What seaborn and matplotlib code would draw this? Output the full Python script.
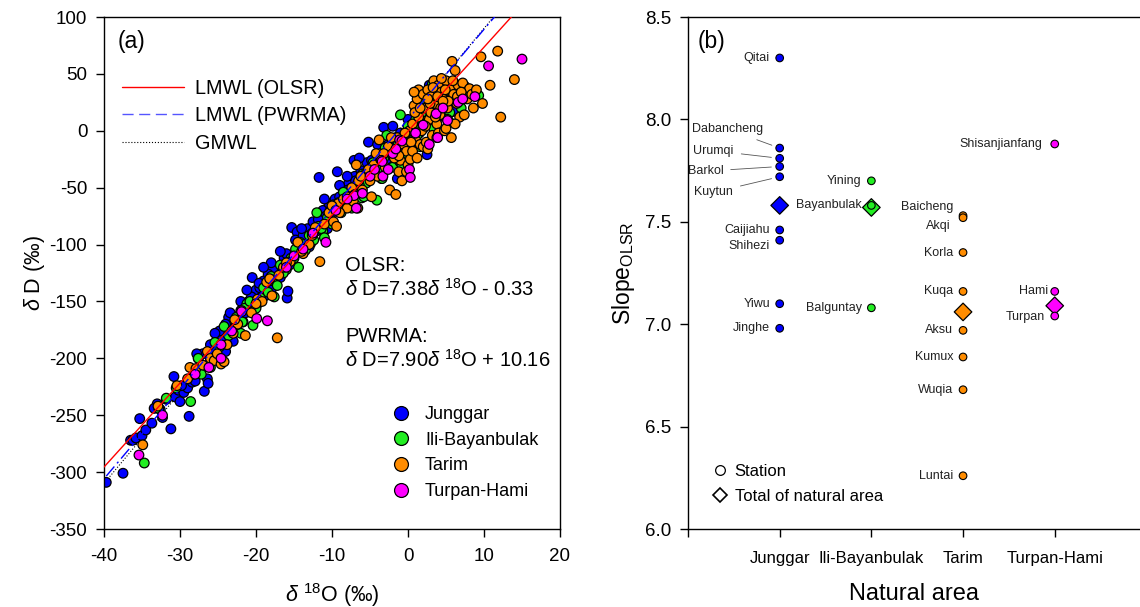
import numpy as np
import pandas as pd
import matplotlib
matplotlib.use("Agg")
import matplotlib.pyplot as plt
from matplotlib.lines import Line2D
import seaborn as sns

# ---- panel (a): d18O / dD of precipitation samples ----
junggar_o = [-39.7, -37.5, -36.5, -36.2, -35.8, -35.3, -35.0, -34.5, -33.7, -33.0, -32.6, -32.3,
             -31.2, -30.6, -30.2, -30.0, -29.5, -29.0, -28.8, -28.4, -28.0, -27.6, -27.2, -26.8,
             -26.4, -26.3, -26.0, -25.6, -25.2, -25.0, -24.6, -24.4, -24.0, -23.8, -23.5, -23.2,
             -23.0, -22.8, -22.5, -22.2, -22.0, -21.7, -21.4, -21.0, -20.8, -20.5, -20.3, -20.0,
             -19.8, -19.5, -19.2, -19.0, -18.6, -18.2, -18.0, -17.7, -17.4, -17.0, -16.6, -16.3,
             -15.9, -15.8, -15.6, -15.3, -15.0, -14.6, -14.3, -14.0, -13.6, -13.2, -12.8, -12.5,
             -12.0, -11.7, -11.5, -11.2, -10.8, -10.4, -10.0, -9.6, -9.3, -9.0, -8.6, -8.2,
             -7.8, -7.5, -7.1, -7.0, -6.6, -6.2, -5.8, -5.2, -5.0, -4.5, -4.2, -3.8,
             -3.2, -2.8, -2.2, -1.8, -1.4, -1.0, -0.5, 0.2, 0.8, 1.5, 2.5, 2.8,
             3.5, 3.7, 4.2, 6.0,
             -33.4, -31.8, -29.8, -28.2, -27.0, -25.8, -24.8, -23.6, -22.6, -21.6, -20.6, -19.6,
             -18.8, -17.8, -16.8, -16.0, -14.8, -13.8, -12.8, -11.8, -10.6, -9.8, -8.8, -7.9,
             -6.9, -6.0, -5.4, -4.8, -3.6, -2.6, -1.6, -0.8, 0.5, 1.2, 2.0, -26.0,
             -22.0, -18.4, -13.0, -9.0,
             -30.8, -27.8, -25.4, -23.4, -21.2, -18.0, -16.8, -14.0, -11.0, -8.0, -6.4, -4.0,
             -2.0, 0.0, -19.0, -24.0]
junggar_d = [-309, -301, -272, -272, -270, -253, -268, -263, -257, -240, -245, -252,
             -262, -234, -228, -238, -230, -226, -251, -221, -220, -200, -210, -229,
             -218, -222, -203, -196, -190, -185, -190, -182, -194, -178, -172, -170,
             -185, -166, -175, -162, -158, -168, -160, -150, -156, -129, -145, -140,
             -152, -138, -146, -132, -137, -128, -140, -125, -132, -120, -126, -112,
             -147, -141, -118, -85, -110, -89, -104, -95, -100, -86, -92, -80,
             -88, -41, -78, -70, -75, -64, -72, -60, -36, -58, -50, -62,
             -46, -55, -26, -40, -48, -35, -42, -10, -30, -38, -22, -28,
             3, -25, -10, -16, -42, -2, -8, 2, -4, 8, -21, 40,
             16, -1, 20, 17,
             -244, -236, -224, -214, -196, -198, -176, -164, -171, -152, -146, -134,
             -145, -122, -129, -108, -96, -92, -99, -78, -86, -65, -70, -52,
             -44, -48, -28, -26, -31, -12, -6, -14, -3, 12, 2, -188,
             -150, -126, -102, -48,
             -216, -196, -178, -160, -140, -116, -106, -86, -60, -40, -24, -12,
             4, 10, -120, -170]

ili_o = [-34.7, -32.8, -31.8, -28.6, -28.0, -27.2, -26.0, -24.8, -23.6, -22.6, -21.8, -21.2,
         -20.4, -20.0, -19.4, -19.0, -18.4, -17.8, -17.2, -16.8, -16.0, -15.4, -14.8, -14.2,
         -13.5, -13.0, -12.4, -12.0, -11.8, -11.2, -10.6, -10.0, -9.4, -9.1, -8.8, -8.2,
         -7.6, -7.0, -6.1, -6.0, -5.5, -4.6, -4.1, -4.0, -3.5, -3.0, -2.8, -2.5,
         -2.0, -1.5, -1.1, -1.0, -0.5, 0.0, 0.3, 0.5, 1.0, 1.5, 2.0, 2.5,
         3.0, 3.2, 3.5, 4.0, 4.5, 5.0, 5.5, 6.1, 7.5, 9.3,
         -30.5, -27.6, -25.4, -24.2, -23.0, -21.5, -20.8, -19.6, -18.0, -16.4, -15.0, -13.8,
         -12.6, -11.4, -10.2, -9.0, -7.8, -6.6, -5.2, -4.4, -3.2, -2.2, -1.3, -0.2,
         0.8, 1.8, 2.8, 3.8, 4.8, 5.8, -8.5, -6.4, -3.8, 1.2, 2.2,
         -22.0, -17.6, -14.4, -11.0, -7.4, -5.8, -3.4, -0.8, 1.6, 3.4, 5.2, 7.0]
ili_d = [-292, -244, -235, -238, -212, -214, -208, -190, -180, -164, -168, -152,
         -171, -156, -147, -138, -142, -130, -136, -118, -122, -112, -104, -98,
         -105, -92, -96, -72, -84, -88, -76, -82, -66, -63, -72, -55,
         -60, -50, -59, -38, -46, -28, -61, -34, -42, -15, -4, -20,
         -32, -8, -27, 14, -22, 4, -16, -6, 10, -2, 14, 6,
         28, 41, 34, 12, 30, 22, 16, 37, 39, 31,
         -226, -200, -186, -172, -176, -156, -150, -150, -128, -125, -112, -100,
         -90, -86, -70, -70, -58, -46, -40, -35, -24, -20, -12, -2,
         2, 16, 20, 26, 28, 34, -54, -48, -22, -4, 24,
         -178, -146, -120, -94, -68, -58, -42, -30, -14, 2, 10, 20]

tarim_o = [-34.9, -32.9, -30.4, -28.7, -27.9, -27.0, -26.4, -26.0, -25.5, -25.1, -24.6, -24.2,
           -23.8, -23.0, -22.4, -21.4, -20.6, -19.8, -19.2, -18.6, -17.9, -17.2, -17.0, -16.4,
           -15.5, -14.5, -13.8, -13.0, -12.2, -11.6, -11.0, -10.4, -9.8, -9.2, -8.5, -8.0,
           -7.4, -7.0, -6.8, -6.5, -6.0, -5.6, -5.0, -4.5, -4.0, -3.8, -3.6, -3.0,
           -2.6, -2.4, -2.0, -1.6, -1.4, -1.2, -1.0, -0.8, -0.6, -0.2, 0.0, 0.2,
           0.3, 0.6, 0.8, 1.0, 1.2, 1.4, 1.4, 1.6, 1.8, 2.0, 2.0, 2.2,
           2.4, 2.6, 2.8, 3.0, 3.0, 3.2, 3.4, 3.6, 3.8, 4.0, 4.0, 4.2,
           4.4, 4.6, 4.8, 5.0, 5.2, 5.4, 5.6, 5.7, 5.8, 6.0, 6.2, 6.4,
           6.6, 6.8, 7.2, 7.6, 8.1, 8.6, 9.6, 9.8, 10.8, 11.8, 12.2, 14.0,
           -29.0, -22.8, -20.0, -18.2, -16.0, -14.0, -12.6, -10.0, -9.0, -8.0, -7.2, -6.2,
           -5.2, -4.2, -3.2, -2.2, -1.8, -0.4, 0.4, 0.9, 1.6, 2.3, 2.9, 3.3,
           3.9, 4.3, 4.9, 5.3, 5.9, 6.5, 7.0, 7.8, 8.4, 9.0, 1.0, 2.6,
           3.6, 4.6, 0.6, -1.2,
           -0.2, 1.2, 2.6, 3.8, 5.0, 6.2, 7.4, -4.8, -6.6, -9.4, 0.8, 4.4]
tarim_d = [-276, -242, -224, -208, -209, -206, -194, -200, -202, -196, -205, -203,
           -188, -178, -170, -180, -160, -148, -150, -133, -145, -182, -127, -120,
           -115, -98, -108, -100, -85, -115, -82, -72, -80, -64, -60, -68,
           -50, -56, -30, -44, -52, -38, -44, -30, -40, -8, -25, -32,
           -14, -52, -20, -56, -6, -36, -26, -44, -12, -18, -30, 0,
           -25, 6, 22, -8, 28, 36, 12, -12, 0, 32, -14, 20,
           -10, 36, 10, 30, 16, -4, 44, 24, 6, 40, -2, 14,
           34, 28, 0, 44, 20, 8, 36, -6, 61, 32, 53, 24,
           40, 12, 42, 30, 37, 20, 65, 24, 40, 70, 12, 45,
           -218, -166, -152, -130, -116, -106, -92, -66, -72, -58, -62, -40,
           -34, -20, -20, -6, -24, -2, -10, 16, 20, 4, 24, 38,
           30, 20, 36, 26, 44, 30, 34, 28, 32, 36, -2, 28,
           12, 26, -18, -22,
           -36, -24, -16, -6, 2, 6, 14, -58, -68, -84, 34, 46]

turpan_o = [-35.4, -32.3, -26.2, -24.6, -24.6, -21.9, -21.9, -19.9, -18.5, -15.0, -12.5, -10.8,
            -9.5, -7.1, -6.0, -5.0, -3.5, -3.4, -3.3, -2.0, -1.1, -0.8, 0.2, 0.3,
            2.0, 3.7, 3.9, 5.2, 6.6, 8.8, 10.6, 15.0,
            -28.0, -23.2, -16.0, -13.8, -8.0, -4.4, -1.6, 1.0, 4.6, 7.2,
            -6.8, -2.6, 2.8]
turpan_d = [-285, -250, -208, -200, -188, -158, -159, -165, -167, -110, -90, -98,
            -70, -57, -55, -40, -26, -27, -40, -20, -8, -9, -34, -41,
            5, 15, -6, 9, 25, 30, 57, 63,
            -214, -176, -120, -104, -60, -34, -16, -2, 20, 28,
            -68, -34, -12]

regions = ["Junggar", "Ili-Bayanbulak", "Tarim", "Turpan-Hami"]
region_colors = ["#0000FF", "#22EE22", "#FF8C00", "#FF00FF"]

# regression lines (slope, intercept)
olsr = (7.38, -0.33)
pwrma = (7.90, 10.16)
gmwl = (8.0, 10.0)

# ---- panel (b): OLSR slope per station ----
station_names = ["Qitai", "Dabancheng", "Urumqi", "Barkol", "Kuytun", "Caijiahu", "Shihezi", "Yiwu", "Jinghe",
                 "Yining", "Bayanbulak", "Balguntay",
                 "Baicheng", "Akqi", "Korla", "Kuqa", "Aksu", "Kumux", "Wuqia", "Luntai",
                 "Shisanjianfang", "Hami", "Turpan"]
station_area = ["Junggar"] * 9 + ["Ili-Bayanbulak"] * 3 + ["Tarim"] * 8 + ["Turpan-Hami"] * 3
station_slope = [8.30, 7.86, 7.81, 7.77, 7.72, 7.46, 7.41, 7.10, 6.98,
                 7.70, 7.58, 7.08,
                 7.53, 7.52, 7.35, 7.16, 6.97, 6.84, 6.68, 6.26,
                 7.88, 7.16, 7.04]
total_slope = [7.58, 7.57, 7.06, 7.09]

sns.set_style("ticks")
plt.rcParams["font.family"] = ["Liberation Sans", "DejaVu Sans"]
plt.rcParams["mathtext.fontset"] = "custom"
plt.rcParams["mathtext.rm"] = "Liberation Sans"
plt.rcParams["mathtext.it"] = "Liberation Sans:italic"
plt.rcParams["axes.unicode_minus"] = False
for key in ["text.color", "axes.labelcolor", "xtick.color", "ytick.color", "axes.edgecolor"]:
    plt.rcParams[key] = "black"
plt.rcParams["axes.linewidth"] = 1.0

fig = plt.figure(figsize=(11.4, 6.07), dpi=100)
ax1 = fig.add_axes([104 / 1140, 1 - 529 / 607, 456 / 1140, 512 / 607])
ax2 = fig.add_axes([688 / 1140, 1 - 529 / 607, 452 / 1140, 512 / 607])

# -- (a) scatter --
frames = []
for name, o, d in zip(regions, [junggar_o, ili_o, tarim_o, turpan_o],
                      [junggar_d, ili_d, tarim_d, turpan_d]):
    frames.append(pd.DataFrame({"d18O": o, "dD": d, "region": name}))
samples = pd.concat(frames, ignore_index=True)

sns.scatterplot(data=samples, x="d18O", y="dD", hue="region", hue_order=regions,
                palette=region_colors, s=48, edgecolor="black", linewidth=0.9,
                legend=False, ax=ax1, zorder=2)

xx = np.linspace(-40, 20, 200)
ax1.plot(xx, olsr[0] * xx + olsr[1], color="red", lw=1.0, zorder=3)
xb = np.linspace(-39.7, 20, 200)
ax1.plot(xb, pwrma[0] * xb + pwrma[1], color="blue", lw=1.0, dashes=(9, 3, 1.5, 3), zorder=3)
ax1.plot(xx, gmwl[0] * xx + gmwl[1], color="black", lw=0.8, ls=":", zorder=1)

ax1.set_xlim(-40, 20)
ax1.set_ylim(-350, 100)
ax1.set_xticks(range(-40, 21, 10))
ax1.set_yticks(range(-350, 101, 50))
ax1.tick_params(direction="out", length=6, width=1, labelsize=13.5, pad=6)
ax1.tick_params(axis="x", pad=8)
ax1.set_xlabel(r"$\mathit{\delta}$ $^{18}$O (‰)", fontsize=15.5, labelpad=11)
ax1.set_ylabel(r"$\mathit{\delta}$ D (‰)", fontsize=15.5, labelpad=2)
ax1.text(0.03, 0.975, "(a)", transform=ax1.transAxes, fontsize=16.5, va="top")

line_leg = ax1.legend(handles=[Line2D([], [], color="red", lw=1.0),
                               Line2D([], [], color="#5555FF", lw=1.0, dashes=(8, 4)),
                               Line2D([], [], color="black", lw=0.8, ls=":")],
                      labels=["LMWL (OLSR)", "LMWL (PWRMA)", "GMWL"],
                      loc="upper left", bbox_to_anchor=(0.01, 0.906), frameon=False,
                      fontsize=14.3, handlelength=3.1, handletextpad=0.55, labelspacing=0.42,
                      borderaxespad=0.3)
ax1.add_artist(line_leg)

reg_handles = [Line2D([], [], marker="o", ls="none", markersize=10, markerfacecolor=c,
                      markeredgecolor="black", markeredgewidth=0.9) for c in region_colors]
ax1.legend(handles=reg_handles, labels=regions, loc="lower left", bbox_to_anchor=(0.575, 0.025),
           frameon=False, fontsize=13, handletextpad=0.35, labelspacing=0.48)

eq_lines = [("OLSR:", -118),
            (r"$\mathit{\delta}$ D=7.38$\mathit{\delta}$ $^{18}$O - 0.33", -139),
            ("PWRMA:", -181),
            (r"$\mathit{\delta}$ D=7.90$\mathit{\delta}$ $^{18}$O + 10.16", -201)]
for txt, yy in eq_lines:
    ax1.text(-8.3, yy, txt, fontsize=14.5, va="center")

# -- (b) slopes --
area_pos = {a: i + 1 for i, a in enumerate(regions)}
stations = pd.DataFrame({"name": station_names, "area": station_area, "slope": station_slope})
stations["pos"] = stations["area"].map(area_pos)
totals = pd.DataFrame({"area": regions, "slope": total_slope})
totals["pos"] = totals["area"].map(area_pos)

sns.scatterplot(data=stations, x="pos", y="slope", hue="area", hue_order=regions,
                palette=region_colors, s=30, edgecolor="black", linewidth=0.8,
                legend=False, ax=ax2, zorder=3)
sns.scatterplot(data=totals, x="pos", y="slope", hue="area", hue_order=regions,
                palette=region_colors, marker="D", s=80, edgecolor="black", linewidth=0.9,
                legend=False, ax=ax2, zorder=2)

leader = {"Dabancheng": (0.43, 7.953), "Urumqi": (0.28, 7.847),
          "Barkol": (0.19, 7.747), "Kuytun": (0.28, 7.644)}
offsets = {"Baicheng": (-7, 6), "Akqi": (-9, -6), "Shihezi": (-7, -4),
           "Shisanjianfang": (-9, 0), "Hami": (-5, 0), "Turpan": (-7, -1)}
lab_font = ["Liberation Sans Narrow", "Liberation Sans", "DejaVu Sans"]
for _, r in stations.iterrows():
    if r["name"] in leader:
        ax2.annotate(r["name"], xy=(r["pos"], r["slope"]), xytext=leader[r["name"]],
                     textcoords="data", ha="center", va="center", fontsize=9, family=lab_font,
                     color="#222222",
                     arrowprops=dict(arrowstyle="-", color="#555555", lw=0.6,
                                     shrinkA=3, shrinkB=6))
    else:
        ax2.annotate(r["name"], xy=(r["pos"], r["slope"]), xytext=offsets.get(r["name"], (-7, 0)),
                     textcoords="offset points", ha="right", va="center", fontsize=9,
                     family=lab_font, color="#222222")

ax2.set_xlim(0, 4.93)
ax2.set_ylim(6.0, 8.5)
ax2.set_xticks([0, 1, 2, 3, 4])
ax2.set_xticklabels(["", "Junggar", "Ili-Bayanbulak", "Tarim", "Turpan-Hami"])
ax2.set_yticks([6.0, 6.5, 7.0, 7.5, 8.0, 8.5])
ax2.set_yticklabels(["6.0", "6.5", "7.0", "7.5", "8.0", "8.5"])
ax2.tick_params(direction="out", length=6, width=1, labelsize=13.5, pad=6)
ax2.tick_params(axis="x", labelsize=12, pad=10)
ax2.spines["right"].set_visible(False)
ax2.set_xlabel("Natural area", fontsize=17, labelpad=12)
ax2.set_ylabel(r"Slope$_{\mathrm{OLSR}}$", fontsize=16.5, labelpad=6)
ax2.text(0.022, 0.975, "(b)", transform=ax2.transAxes, fontsize=16.5, va="top")

ax2.legend(handles=[Line2D([], [], marker="o", ls="none", markersize=7, markerfacecolor="white",
                           markeredgecolor="black", markeredgewidth=0.9),
                    Line2D([], [], marker="D", ls="none", markersize=7.5, markerfacecolor="white",
                           markeredgecolor="black", markeredgewidth=1.2)],
           labels=["Station", "Total of natural area"], loc="lower left",
           bbox_to_anchor=(0.015, 0.02), frameon=False, fontsize=12,
           handletextpad=0.3, labelspacing=0.6, handlelength=1.2)

fig.savefig("out.png", dpi=100)
